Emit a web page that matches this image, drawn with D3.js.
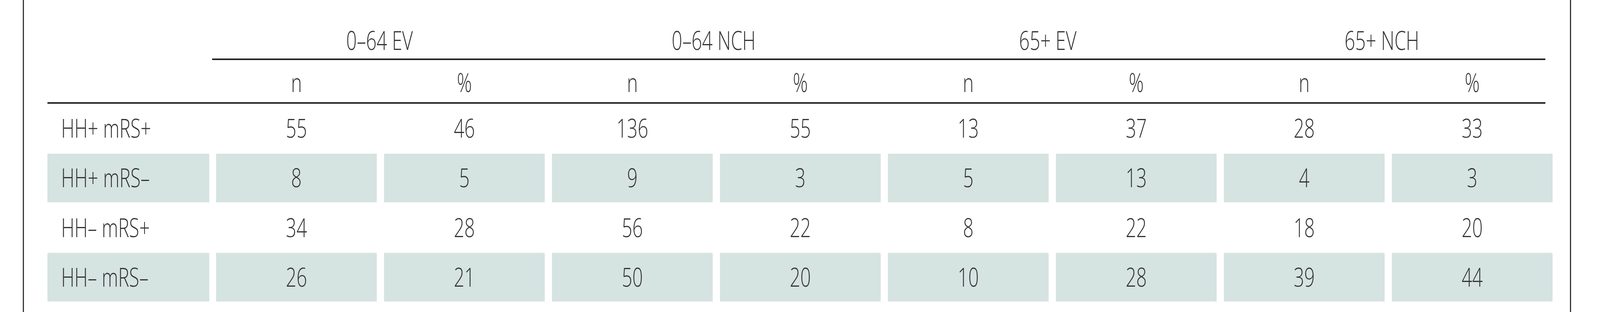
<!DOCTYPE html>
<html><head><meta charset="utf-8">
<script src="https://cdn.jsdelivr.net/npm/d3@7"></script>
<style>html,body{margin:0;padding:0;overflow:hidden;background:#fff}svg{display:block;width:100vw;height:100vh}text{font-family:"Open Sans",sans-serif;font-weight:300;fill:#333}</style>
</head><body><svg id="c" viewBox="0 0 4450 800" preserveAspectRatio="none"></svg>
<script>
const groups=["0–64 EV","0–64 NCH","65+ EV","65+ NCH"];
const subHeaders=["n","%"];
const rowLabels=["HH+ mRS+","HH+ mRS–","HH– mRS+","HH– mRS–"];
const r1=[55,46,136,55,13,37,28,33];
const r2=[8,5,9,3,5,13,4,3];
const r3=[34,28,56,22,8,22,18,20];
const r4=[26,21,50,20,10,28,39,44];
const rows=[r1,r2,r3,r4];

const svg=d3.select("#c");
const fs=66, sx=0.78;
const cols=d3.range(8);
const x=d3.scaleBand().domain(cols).range([601,4318]).paddingInner(20/462).paddingOuter(0);
const gx=d3.scaleBand().domain(d3.range(4)).range([601,4318]);
const y=d3.scaleBand().domain(d3.range(4)).range([267,773]).paddingInner(0.02);
function txt(sel,xf,yf,anchor){
  return sel.attr("transform",(d,i)=>`translate(${xf(d,i)},${yf(d,i)}) scale(${sx},1)`)
    .attr("text-anchor",anchor).attr("font-size",fs);
}

svg.append("line").attr("x1",65).attr("x2",65).attr("y1",0).attr("y2",800).attr("stroke","#222").attr("stroke-width",3);
svg.append("line").attr("x1",4368).attr("x2",4368).attr("y1",0).attr("y2",800).attr("stroke","#222").attr("stroke-width",3);
svg.append("line").attr("x1",590).attr("x2",4298).attr("y1",152).attr("y2",152).attr("stroke","#222").attr("stroke-width",4);
svg.append("line").attr("x1",132).attr("x2",4298).attr("y1",264).attr("y2",264).attr("stroke","#222").attr("stroke-width",4);

txt(svg.selectAll(".g").data(groups).join("text").text(d=>d),(d,i)=>gx(i)+gx.bandwidth()/2-10,()=>128,"middle");
txt(svg.selectAll(".s").data(cols).join("text").text(i=>subHeaders[i%2]),i=>x(i)+x.bandwidth()/2,()=>236,"middle");

rows.forEach((r,ri)=>{
 if(ri%2===1){
  svg.append("rect").attr("x",132).attr("y",y(ri)).attr("width",450).attr("height",y.bandwidth()).attr("fill","#d5e3e1");
  svg.selectAll(null).data(cols).join("rect").attr("x",i=>x(i)).attr("y",y(ri)).attr("width",x.bandwidth()).attr("height",y.bandwidth()).attr("fill","#d5e3e1");
 }
 const cy=y(ri)+y.bandwidth()/2+24;
 txt(svg.append("text").datum(rowLabels[ri]).text(d=>d),()=>170,()=>cy,"start");
 txt(svg.selectAll(null).data(r).join("text").text(d=>d),(d,i)=>x(i)+x.bandwidth()/2,()=>cy,"middle");
});
</script></body></html>
